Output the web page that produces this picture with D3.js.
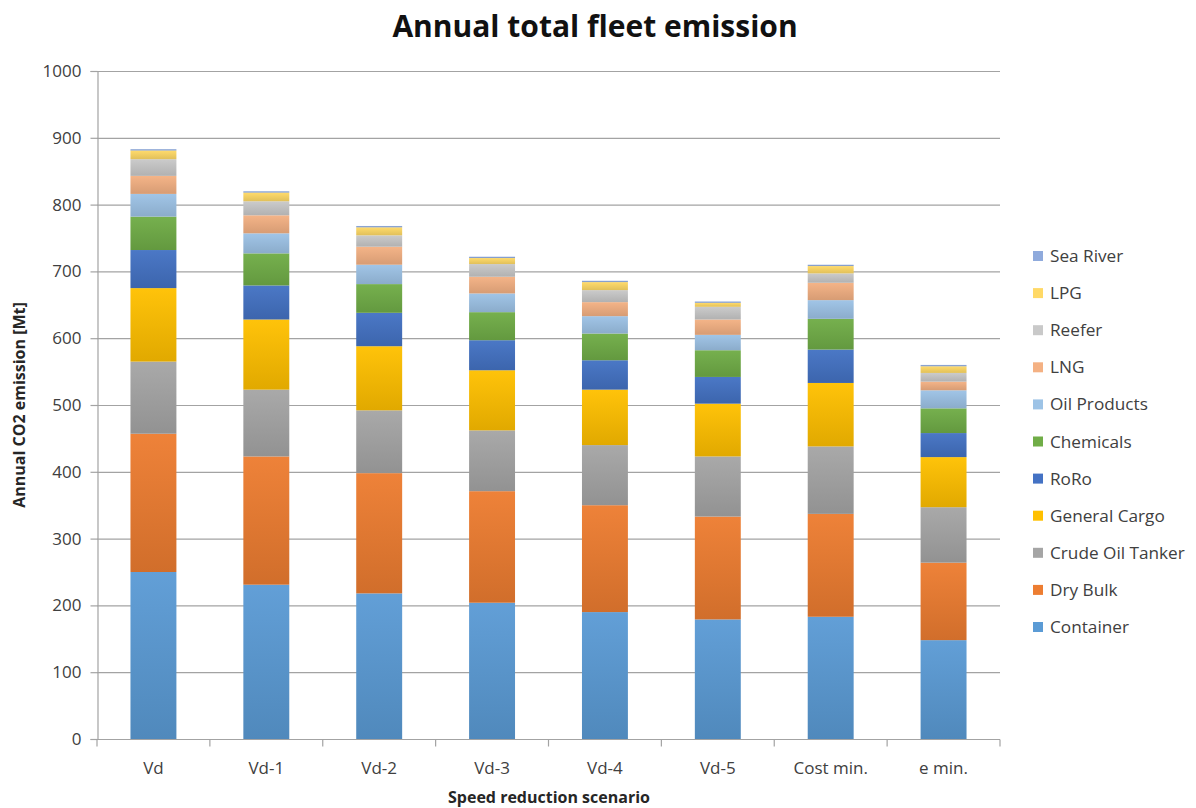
<!DOCTYPE html>
<html>
<head>
<meta charset="utf-8">
<script src="https://cdn.jsdelivr.net/npm/d3@7"></script>
<style>
  body { margin: 0; background: #fff; }
  svg { display: block; font-family: "Open Sans", "Noto Sans", sans-serif; }
</style>
</head>
<body>
<svg id="chart" width="1196" height="808"></svg>
<script>
// Scenarios on the x axis
const scenarios = ["Vd", "Vd-1", "Vd-2", "Vd-3", "Vd-4", "Vd-5", "Cost min.", "e min."];

// Ship types, bottom of the stack first
const shipTypes = ["Container", "Dry Bulk", "Crude Oil Tanker", "General Cargo", "RoRo",
                   "Chemicals", "Oil Products", "LNG", "Reefer", "LPG", "Sea River"];

// Annual CO2 emission per ship type and scenario [Mt]
const container      = [250, 231, 218, 204, 190, 179, 183, 148];
const dryBulk        = [207, 192, 180, 167, 160, 154, 154, 116];
const crudeOilTanker = [108, 100,  94,  91,  90,  90, 101,  83];
const generalCargo   = [110, 105,  96,  90,  83,  79,  95,  75];
const roRo           = [ 57,  51,  50,  45,  44,  40,  50,  36];
const chemicals      = [ 50,  48,  43,  42,  40,  40,  46,  37];
const oilProducts    = [ 34,  30,  29,  28,  26,  23,  28,  27];
const lng            = [ 27,  27,  27,  25,  21,  23,  26,  13];
const reefer         = [ 25,  21,  17,  19,  18,  19,  14,  13];
const lpg            = [ 13,  13,  12,   9,  12,   6,  11,  10];
const seaRiver       = [  2,   2,   2,   2,   2,   2,   2,   2];

const yTicks = [0, 100, 200, 300, 400, 500, 600, 700, 800, 900, 1000];

const seriesValues = [container, dryBulk, crudeOilTanker, generalCargo, roRo,
                      chemicals, oilProducts, lng, reefer, lpg, seaRiver];

const palette = ["#5B9BD5", "#ED7D31", "#A5A5A5", "#FFC000", "#4472C4", "#70AD47",
                 "#9DC3E6", "#F4B183", "#C9C9C9", "#FFD966", "#8FAADC"];

// Table for d3.stack: one row per scenario
const table = scenarios.map((s, i) => {
  const row = { scenario: s };
  shipTypes.forEach((t, k) => { row[t] = seriesValues[k][i]; });
  return row;
});

const svg = d3.select("#chart");
const margin = { left: 97, right: 1000, top: 71, bottom: 739 };

const x = d3.scaleBand()
  .domain(scenarios)
  .range([margin.left, margin.right])
  .paddingInner(0.593)
  .paddingOuter(0.2965);

const y = d3.scaleLinear().domain([0, 1000]).range([margin.bottom, margin.top]);

const color = d3.scaleOrdinal().domain(shipTypes).range(palette);

// Vertical shading for each series
const defs = svg.append("defs");
shipTypes.forEach((t, k) => {
  const base = d3.color(palette[k]);
  const g = defs.append("linearGradient")
    .attr("id", "grad" + k)
    .attr("x1", 0).attr("y1", 0).attr("x2", 0).attr("y2", 1);
  g.append("stop").attr("offset", "0%").attr("stop-color", d3.interpolateRgb(base, "#fff")(0.04));
  g.append("stop").attr("offset", "100%").attr("stop-color", base.darker(0.35));
});

// Horizontal gridlines
svg.append("g")
  .selectAll("line")
  .data(yTicks.filter(v => v > 0))
  .join("line")
  .attr("x1", margin.left).attr("x2", margin.right)
  .attr("y1", d => y(d) + 0.5).attr("y2", d => y(d) + 0.5)
  .attr("stroke", "#A3A3A3").attr("stroke-width", 1.2);

// Stacked bars
const stacked = d3.stack().keys(shipTypes)(table);
svg.append("g")
  .selectAll("g")
  .data(stacked)
  .join("g")
  .attr("fill", (d, k) => `url(#grad${k})`)
  .selectAll("rect")
  .data(d => d)
  .join("rect")
  .attr("x", d => x(d.data.scenario))
  .attr("width", x.bandwidth())
  .attr("y", d => y(d[1]))
  .attr("height", d => y(d[0]) - y(d[1]));

// Y axis
const yAxis = svg.append("g")
  .attr("transform", `translate(${margin.left + 0.5},0)`)
  .call(d3.axisLeft(y).tickValues(yTicks).tickSize(7).tickPadding(9).tickFormat(d3.format("d")));
yAxis.select(".domain").attr("stroke", "#A3A3A3").attr("stroke-width", 1.2);
yAxis.selectAll(".tick line").attr("stroke", "#A3A3A3").attr("stroke-width", 1.2);
yAxis.selectAll(".tick text")
  .attr("fill", "#404040").style("font-size", "17px").style("font-family", "'Open Sans', sans-serif");

// X axis with ticks between categories
const xAxisG = svg.append("g").attr("transform", `translate(0,${margin.bottom + 0.5})`);
xAxisG.append("line")
  .attr("x1", margin.left).attr("x2", margin.right)
  .attr("stroke", "#A3A3A3").attr("stroke-width", 1.2);
const boundaries = scenarios.map(s => x(s) - x.step() * x.paddingInner() / 2)
  .concat([margin.right]);
xAxisG.selectAll("line.tick")
  .data(boundaries)
  .join("line")
  .attr("class", "tick")
  .attr("x1", d => d).attr("x2", d => d)
  .attr("y1", 0).attr("y2", 7)
  .attr("stroke", "#A3A3A3").attr("stroke-width", 1.2);
xAxisG.selectAll("text")
  .data(scenarios)
  .join("text")
  .attr("x", d => x(d) + x.bandwidth() / 2)
  .attr("y", 34)
  .attr("text-anchor", "middle")
  .attr("fill", "#404040")
  .style("font-size", "17px")
  .text(d => d);

// Title and axis titles
svg.append("text")
  .attr("x", 595).attr("y", 37)
  .attr("text-anchor", "middle")
  .attr("fill", "#111")
  .style("font-size", "30px").style("font-weight", "bold")
  .text("Annual total fleet emission");

svg.append("text")
  .attr("x", 549).attr("y", 803)
  .attr("text-anchor", "middle")
  .attr("fill", "#262626")
  .style("font-size", "16px").style("font-weight", "bold")
  .text("Speed reduction scenario");

svg.append("text")
  .attr("transform", `translate(25,${(margin.top + margin.bottom) / 2}) rotate(-90)`)
  .attr("text-anchor", "middle")
  .attr("fill", "#262626")
  .style("font-size", "16px").style("font-weight", "bold")
  .text("Annual CO2 emission [Mt]");

// Legend, top entry is the top of the stack
const legendItems = shipTypes.slice().reverse();
const legend = svg.append("g").attr("transform", "translate(1033,256)");
const item = legend.selectAll("g")
  .data(legendItems)
  .join("g")
  .attr("transform", (d, i) => `translate(0,${i * 37.1})`);
item.append("rect")
  .attr("x", 0).attr("y", -5).attr("width", 10).attr("height", 10)
  .attr("fill", d => color(d));
item.append("text")
  .attr("x", 17).attr("y", 0).attr("dy", "0.35em")
  .attr("fill", "#404040")
  .style("font-size", "17.2px")
  .text(d => d);
</script>
</body>
</html>
